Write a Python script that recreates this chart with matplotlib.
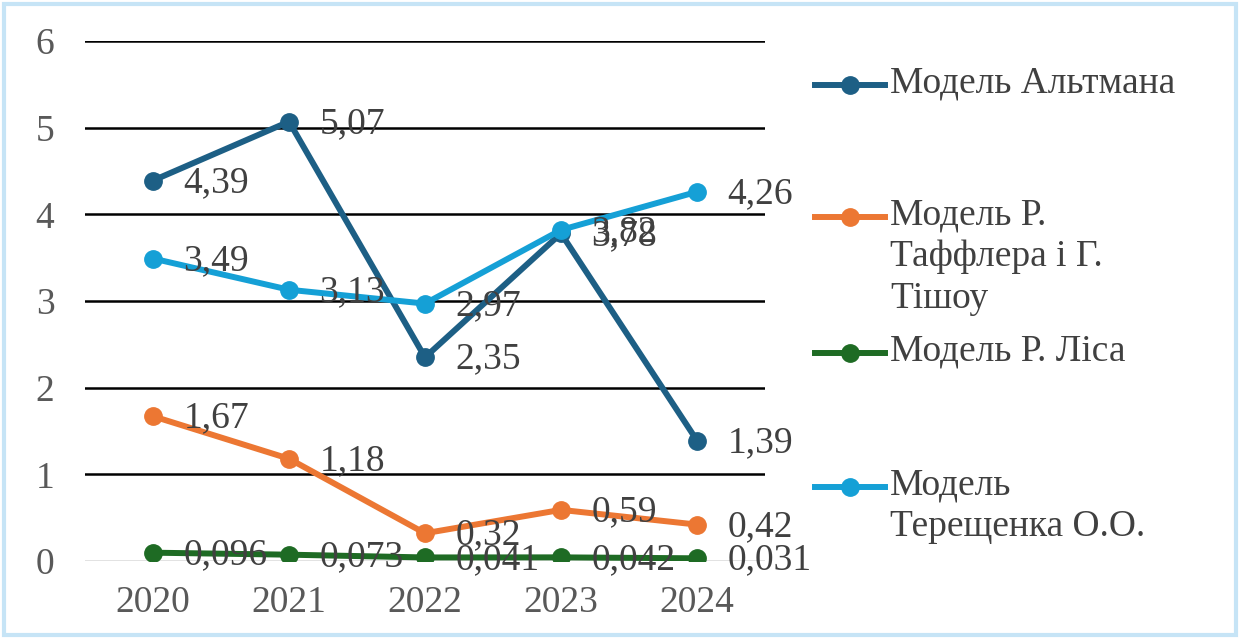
import matplotlib.pyplot as plt
from matplotlib.lines import Line2D
from matplotlib.patches import Rectangle

plt.rcParams['font.family'] = ['Liberation Serif', 'DejaVu Serif']

years = ['2020', '2021', '2022', '2023', '2024']
altman = [4.39, 5.07, 2.35, 3.78, 1.39]
taffler = [1.67, 1.18, 0.32, 0.59, 0.42]
lis = [0.096, 0.073, 0.041, 0.042, 0.031]
tereshchenko = [3.49, 3.13, 2.97, 3.82, 4.26]

labels = ['Модель Альтмана', 'Модель Р.\nТаффлера і Г.\nТішоу',
          'Модель Р. Ліса', 'Модель\nТерещенка О.О.']
colors = ['#1d5f85', '#ec7733', '#1e6b24', '#15a0d6']
series = [altman, taffler, lis, tereshchenko]

FS = 27
W, H = 1240, 639
fig = plt.figure(figsize=(W / 100, H / 100), dpi=100)
ax = fig.add_axes([85 / W, 1 - 561 / H, 680 / W, 520 / H])

x = list(range(len(years)))
for vals, col in zip(series, colors):
    ax.plot(x, vals, color=col, lw=4.3, marker='o', ms=12.5, zorder=3)

# data labels right of each point
for vals in series:
    for xi, v in zip(x, vals):
        s = ('%g' % v).replace('.', ',')
        ax.annotate(s, (xi, v), xytext=(22, -1.5), textcoords='offset points',
                    ha='left', va='center', fontsize=FS, color='#404040',
                    zorder=4, annotation_clip=False)

ax.set_xlim(-0.5, 4.5)
ax.set_ylim(0, 6)
ax.set_yticks(range(7))
ax.set_xticks(x)
ax.set_xticklabels(years)
ax.tick_params(axis='both', length=0, labelsize=FS, labelcolor='#595959')
ax.tick_params(axis='y', pad=22)
ax.tick_params(axis='x', pad=18)
for s in ax.spines.values():
    s.set_visible(False)
for yv in range(1, 7):
    ax.axhline(yv, color='black', lw=1.8, zorder=1)
ax.axhline(0, color='#d9d9d9', lw=1.8, zorder=1)

# legend drawn by hand so the marker sits on the first text line
leg_y = [85, 217, 353, 487]
for yy, lab, col in zip(leg_y, labels, colors):
    fy = 1 - yy / H
    fig.add_artist(Line2D([815 / W, 885 / W], [fy, fy], color=col, lw=4.3,
                          transform=fig.transFigure))
    fig.add_artist(Line2D([850 / W], [fy], color=col, marker='o', ms=12.5,
                          transform=fig.transFigure))
    fig.text(890 / W, fy + 19 / H, lab, fontsize=FS, color='#404040',
             ha='left', va='top', linespacing=1.28)

fig.add_artist(Rectangle((4 / W, 4 / H), 1232 / W, 631 / H, fill=False,
                         edgecolor='#c6e4f6', lw=3, transform=fig.transFigure))

fig.savefig('out.png', dpi=100)
